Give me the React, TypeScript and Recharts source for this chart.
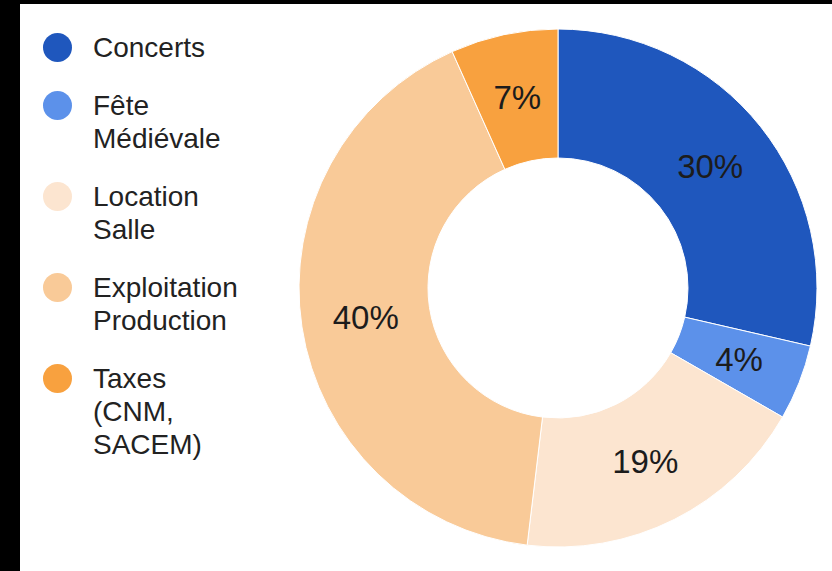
import { Cell, Pie, PieChart } from "recharts";

const categories = ["Concerts", "Fête Médiévale", "Location Salle", "Exploitation Production", "Taxes (CNM, SACEM)"];
const legendLines = [["Concerts"], ["Fête", "Médiévale"], ["Location", "Salle"], ["Exploitation", "Production"], ["Taxes", "(CNM,", "SACEM)"]];
const shares = [28.6, 4.7, 18.6, 41.4, 6.7];
const shareLabels = ["30%", "4%", "19%", "40%", "7%"];
const colors = ["#1f57bd", "#5c91ea", "#fce5d0", "#f9ca98", "#f8a13f"];

const data = categories.map((name, i) => ({ name, value: shares[i], label: shareLabels[i] }));

const FONT = "'Liberation Sans', Arial, sans-serif";
const RADIAN = Math.PI / 180;

function SliceLabel(props: any) {
  const { cx, cy, midAngle, innerRadius, outerRadius, index } = props;
  const r = (innerRadius + outerRadius) / 2;
  const x = cx + r * Math.cos(-midAngle * RADIAN);
  const y = cy + r * Math.sin(-midAngle * RADIAN);
  return (
    <text x={x} y={y} fill="#1c1c1c" fontSize={33} fontFamily={FONT} textAnchor="middle" dominantBaseline="central">
      {shareLabels[index]}
    </text>
  );
}

function LegendList() {
  return (
    <div style={{ position: "absolute", left: 23, top: 27, width: 240, fontFamily: FONT, fontSize: 28, lineHeight: "33px", color: "#222" }}>
      {legendLines.map((lines, i) => (
        <div key={categories[i]} style={{ display: "flex", alignItems: "flex-start", marginBottom: 25 }}>
          <span
            style={{
              width: 29,
              height: 29,
              borderRadius: "50%",
              background: colors[i],
              marginTop: 2,
              marginRight: 21,
              flexShrink: 0,
            }}
          />
          <div>
            {lines.map((l) => (
              <div key={l}>{l}</div>
            ))}
          </div>
        </div>
      ))}
    </div>
  );
}

export default function App() {
  return (
    <div style={{ position: "absolute", left: 0, top: 0, width: 832, height: 571, background: "#000", overflow: "hidden" }}>
      <div style={{ position: "absolute", left: 20, top: 4, width: 812, height: 567, background: "#fff" }}>
        <PieChart width={812} height={567} margin={{ top: 0, right: 0, bottom: 0, left: 0 }}>
          <Pie
            data={data}
            dataKey="value"
            nameKey="name"
            cx={538}
            cy={284}
            innerRadius={130}
            outerRadius={259}
            startAngle={90}
            endAngle={-270}
            stroke="#fff"
            strokeWidth={1}
            label={SliceLabel}
            labelLine={false}
            isAnimationActive={false}
          >
            {data.map((d, i) => (
              <Cell key={d.name} fill={colors[i]} />
            ))}
          </Pie>
        </PieChart>
        <LegendList />
      </div>
    </div>
  );
}
